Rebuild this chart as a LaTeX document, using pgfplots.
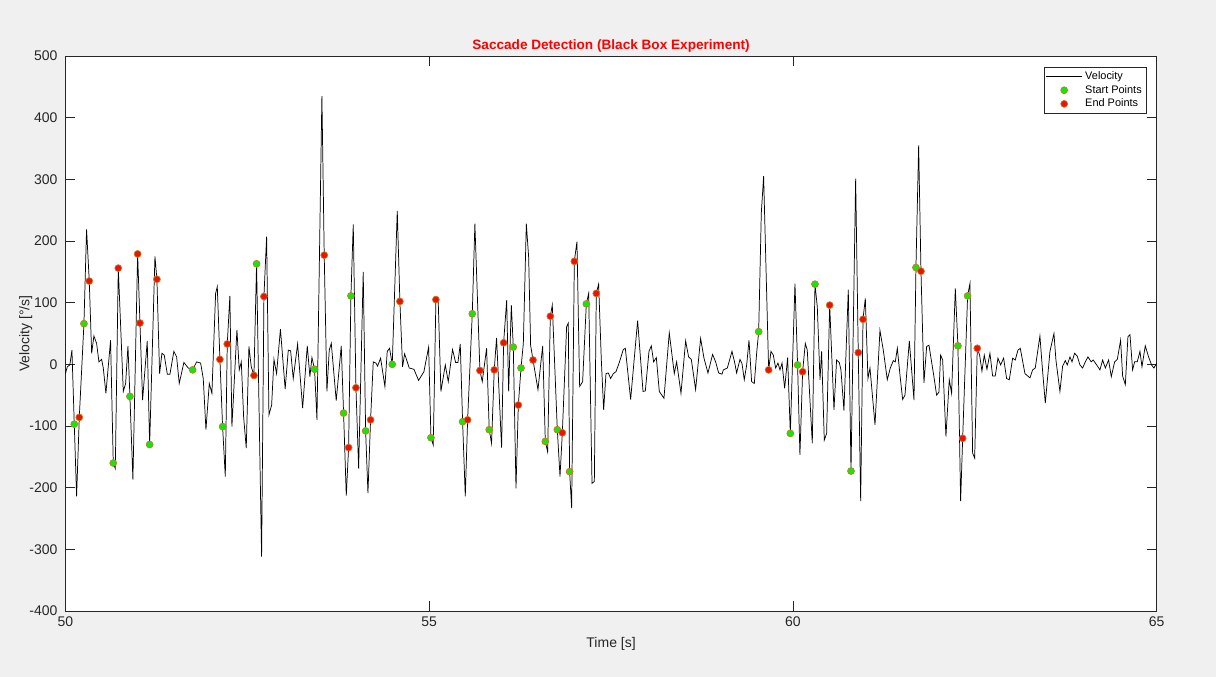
\documentclass[border=0pt]{standalone}
\usepackage{fontspec}
\setmainfont{Liberation Sans}
\usepackage{pgfplots}
\usepackage{pgfplotstable}
\pgfplotsset{compat=1.18}

\definecolor{figgray}{RGB}{240,240,240}
\definecolor{axgray}{RGB}{38,38,38}
\definecolor{startgreen}{RGB}{20,230,20}
\definecolor{endred}{RGB}{230,20,10}
\definecolor{mkedge}{RGB}{205,120,20}

\pgfplotsset{
    lineleg/.style={legend image code/.code={\draw[##1] (0pt,0pt) -- (27pt,0pt);}},
    markleg/.style={legend image code/.code={\draw[mark repeat=2, mark phase=2, ##1] plot coordinates {(0pt,0pt) (13.5pt,0pt) (27pt,0pt)};}},
}

% eye velocity trace (peaks and valleys)
\pgfplotstableread{
t v
50.000 -15
50.025 -4
50.060 -1
50.089 23
50.121 -97
50.153 -214
50.190 -86
50.254 66
50.290 219
50.327 135
50.360 18
50.391 46
50.428 34
50.460 4
50.497 8
50.520 -6
50.556 -47
50.620 39
50.657 -160
50.685 -169
50.726 156
50.795 -44
50.827 -31
50.859 30
50.886 -52
50.927 -187
50.992 179
51.024 67
51.060 -58
51.124 38
51.157 -130
51.230 175
51.257 138
51.294 -15
51.326 18
51.358 15
51.400 -16
51.436 -16
51.490 21
51.528 12
51.564 -31
51.628 3
51.688 -6
51.748 -9
51.803 4
51.858 2
51.894 -23
51.931 -106
51.977 -31
52.013 -47
52.064 115
52.087 126
52.123 8
52.160 -101
52.197 -182
52.224 33
52.260 111
52.288 -101
52.357 56
52.389 -9
52.417 4
52.449 -85
52.485 -136
52.522 29
52.554 -4
52.591 -18
52.627 163
52.696 -312
52.728 110
52.765 207
52.797 -82
52.834 -66
52.866 8
52.902 -15
52.955 57
53.020 -40
53.063 23
53.095 22
53.131 -23
53.191 33
53.260 -71
53.324 30
53.360 -20
53.388 11
53.424 -8
53.457 -90
53.525 435
53.557 177
53.594 -44
53.626 23
53.654 34
53.722 -59
53.791 30
53.823 -79
53.860 -213
53.892 -135
53.924 111
53.956 227
53.993 -38
54.030 -169
54.093 150
54.126 -108
54.158 -209
54.194 -90
54.231 4
54.268 2
54.290 -3
54.332 10
54.391 -36
54.423 21
54.455 26
54.492 0
54.561 249
54.597 102
54.634 -4
54.662 17
54.726 -6
54.790 -8
54.854 -26
54.927 -12
54.992 28
55.024 -119
55.056 -131
55.092 105
55.124 102
55.161 -44
55.221 -1
55.262 -28
55.321 24
55.363 3
55.395 3
55.427 33
55.459 -93
55.496 -214
55.528 -90
55.592 82
55.628 228
55.697 -10
55.729 -28
55.789 26
55.825 -106
55.857 -128
55.894 -9
55.926 43
55.995 -135
56.023 35
56.065 104
56.092 -44
56.129 96
56.156 28
56.193 -201
56.225 -66
56.262 -6
56.294 34
56.335 228
56.367 174
56.394 31
56.427 7
56.495 -41
56.560 30
56.596 -125
56.628 -142
56.665 78
56.692 96
56.761 -106
56.798 -182
56.830 -111
56.889 61
56.912 67
56.930 -174
56.958 -233
56.995 167
57.031 199
57.068 -36
57.109 -28
57.160 98
57.192 115
57.238 -193
57.270 -190
57.297 115
57.329 130
57.366 7
57.398 -74
57.430 -15
57.462 -14
57.494 -23
57.531 -15
57.567 -12
57.613 3
57.668 24
57.696 26
57.769 -57
57.865 71
57.939 -44
57.971 -43
58.021 21
58.053 30
58.085 4
58.122 11
58.163 -44
58.227 -55
58.300 51
58.369 -15
58.401 4
58.461 -47
58.525 38
58.566 12
58.603 8
58.662 -41
58.731 42
58.777 10
58.832 -14
58.896 16
58.937 4
58.979 -14
59.025 -16
59.043 -9
59.098 -6
59.162 21
59.199 3
59.226 -14
59.272 8
59.300 1
59.331 -25
59.364 -1
59.396 39
59.432 -28
59.469 -31
59.501 18
59.529 53
59.565 245
59.597 305
59.666 -9
59.698 21
59.730 15
59.762 -6
59.794 2
59.822 -9
59.850 2
59.886 -39
59.927 11
59.964 -112
60.028 131
60.064 -1
60.096 -147
60.133 -12
60.170 34
60.197 23
60.266 -128
60.303 130
60.335 93
60.372 -25
60.394 21
60.431 -123
60.463 -112
60.505 96
60.564 -74
60.600 7
60.637 3
60.660 -9
60.701 -75
60.761 121
60.798 -173
60.862 301
60.898 19
60.931 -222
60.963 73
60.995 107
61.031 -23
61.059 -6
61.128 -98
61.196 55
61.242 23
61.297 -25
61.338 -6
61.380 6
61.407 4
61.435 26
61.471 -17
61.508 -57
61.540 -50
61.600 38
61.664 -58
61.691 157
61.728 355
61.760 151
61.801 -30
61.838 29
61.870 31
61.934 -17
61.975 -50
62.007 -45
62.030 15
62.058 7
62.103 -117
62.149 -25
62.181 -47
62.232 123
62.268 30
62.305 -222
62.333 -120
62.401 111
62.433 131
62.470 -144
62.498 -152
62.534 26
62.566 15
62.598 -11
62.630 15
62.667 -8
62.708 18
62.745 -19
62.781 -19
62.818 10
62.855 -1
62.896 10
62.937 -23
62.974 -25
63.020 10
63.056 7
63.093 23
63.125 26
63.189 -15
63.258 -22
63.295 -9
63.331 -6
63.395 46
63.427 -4
63.469 -63
63.533 21
63.588 50
63.615 7
63.670 -44
63.707 -3
63.744 6
63.771 -1
63.808 12
63.836 4
63.872 18
63.909 13
63.945 -1
63.982 -6
64.019 4
64.055 12
64.100 4
64.128 7
64.175 -1
64.220 -9
64.257 7
64.294 -6
64.339 7
64.376 -20
64.422 4
64.459 8
64.504 39
64.532 -19
64.569 -33
64.605 45
64.633 48
64.669 -9
64.697 4
64.733 4
64.770 21
64.798 -4
64.843 30
64.889 12
64.930 -1
64.962 -6
65.000 2
}\velocity

% detected saccade onsets
\pgfplotstableread{
t v
50.121 -97
50.254 66
50.657 -160
50.886 -52
51.157 -130
51.748 -9
52.160 -101
52.627 163
53.424 -8
53.823 -79
53.924 111
54.126 -108
54.492 0
55.024 -119
55.459 -93
55.592 82
55.825 -106
56.156 28
56.262 -6
56.596 -125
56.761 -106
56.930 -174
57.160 98
59.529 53
59.964 -112
60.064 -1
60.303 130
60.798 -173
61.691 157
62.268 30
62.401 111
}\starts

% detected saccade offsets
\pgfplotstableread{
t v
50.190 -86
50.327 135
50.726 156
50.992 179
51.024 67
51.257 138
52.123 8
52.224 33
52.591 -18
52.728 110
53.557 177
53.892 -135
53.993 -38
54.194 -90
54.597 102
55.092 105
55.528 -90
55.697 -10
55.894 -9
56.023 35
56.225 -66
56.427 7
56.665 78
56.830 -111
56.995 167
57.297 115
59.666 -9
60.133 -12
60.505 96
60.898 19
60.963 73
61.760 151
62.333 -120
62.534 26
}\ends

\begin{document}
\begin{tikzpicture}
\fill[figgray] (0pt,0pt) rectangle (912pt,507.75pt);
\begin{axis}[
    at={(49.1pt,49.5pt)}, anchor=south west,
    scale only axis,
    width=818.4pt, height=416.25pt,
    xmin=50, xmax=65, ymin=-400, ymax=500,
    xtick={50,55,60,65},
    ytick={-400,-300,...,500},
    axis background/.style={fill=white},
    axis line style={axgray, line width=0.5pt},
    tick style={axgray, line width=0.5pt},
    major tick length=7.5pt,
    tick align=inside,
    /pgf/number format/assume math mode=true,
    tick label style={font=\fontsize{10.5}{12}\selectfont, text=axgray},
    yticklabel style={xshift=-2.5pt},
    xticklabel style={yshift=-1pt},
    xlabel={Time [s]},
    ylabel={Velocity [°/s]},
    label style={font=\fontsize{10.5}{12}\selectfont, text=axgray},
    xlabel style={yshift=-1pt},
    ylabel style={yshift=-9pt},
    title={Saccade Detection (Black Box Experiment)},
    title style={font=\bfseries\fontsize{10.2}{12}\selectfont, text=red, yshift=-7pt},
    legend style={at={(1,1)}, anchor=north east, xshift=-7.5pt, yshift=-8pt,
        draw=axgray, fill=white, font=\fontsize{8.2}{9.8}\selectfont,
        inner sep=1.5pt, row sep=-1.2pt},
    legend cell align=left,
]
\addplot[black, line width=0.55pt, lineleg]
    table[x=t, y=v] {\velocity};
\addlegendentry{Velocity}
\addplot[only marks, mark=*, mark size=2.6pt,
    mark options={fill=startgreen, draw=mkedge, line width=0.5pt}, markleg]
    table[x=t, y=v] {\starts};
\addlegendentry{Start Points}
\addplot[only marks, mark=*, mark size=2.6pt,
    mark options={fill=endred, draw=mkedge, line width=0.5pt}, markleg]
    table[x=t, y=v] {\ends};
\addlegendentry{End Points}
\end{axis}
\end{tikzpicture}
\end{document}
